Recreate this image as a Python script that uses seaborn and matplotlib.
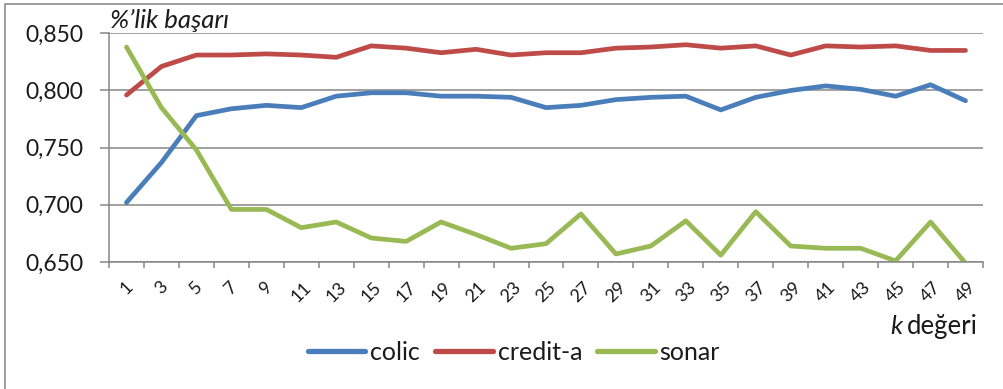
import numpy as np
import pandas as pd
import matplotlib
matplotlib.use("Agg")
import matplotlib.pyplot as plt
from matplotlib.lines import Line2D
from matplotlib.ticker import FuncFormatter
import seaborn as sns

# k values (odd neighbours 1..49)
k_values = [str(k) for k in range(1, 50, 2)]

colic = [0.702, 0.737, 0.778, 0.784, 0.787, 0.785, 0.795, 0.798, 0.798, 0.795,
         0.795, 0.794, 0.785, 0.787, 0.792, 0.794, 0.795, 0.783, 0.794, 0.800,
         0.804, 0.801, 0.795, 0.805, 0.791]
credit_a = [0.796, 0.821, 0.831, 0.831, 0.832, 0.831, 0.829, 0.839, 0.837, 0.833,
            0.836, 0.831, 0.833, 0.833, 0.837, 0.838, 0.840, 0.837, 0.839, 0.831,
            0.839, 0.838, 0.839, 0.835, 0.835]
sonar = [0.838, 0.785, 0.748, 0.696, 0.696, 0.680, 0.685, 0.671, 0.668, 0.685,
         0.674, 0.662, 0.666, 0.692, 0.657, 0.664, 0.686, 0.656, 0.694, 0.664,
         0.662, 0.662, 0.651, 0.685, 0.649]

series_names = ["colic", "credit-a", "sonar"]
series_colors = ["#4A7EBB", "#BE4B48", "#98B954"]

df = pd.DataFrame({
    "k": k_values * 3,
    "acc": colic + credit_a + sonar,
    "dataset": np.repeat(series_names, len(k_values)),
})

sns.set_theme(style="white")
plt.rcParams["font.family"] = ["Lato", "DejaVu Sans"]

W, H = 1004, 389
fig = plt.figure(figsize=(W / 100, H / 100), dpi=100)
ax = fig.add_axes([109 / W, 1 - 262 / H, (983 - 109) / W, (262 - 33.3) / H])

sns.lineplot(data=df, x="k", y="acc", hue="dataset", palette=series_colors,
             sort=False, linewidth=3.4, ax=ax, legend=False)
for ln in ax.lines:
    ln.set_solid_capstyle("round")
    ln.set_solid_joinstyle("round")

grid_c = "#868686"
txt_c = "#1a1a1a"
ax.set_xlim(-0.5, len(k_values) - 0.5)
ax.set_ylim(0.650, 0.850)
ax.set_yticks([0.650, 0.700, 0.750, 0.800, 0.850])
ax.yaxis.set_major_formatter(FuncFormatter(lambda v, p: f"{v:.3f}".replace(".", ",")))
ax.grid(axis="y", color=grid_c, linewidth=1.1)
ax.set_axisbelow(True)

# tick marks between categories, labels on categories
ax.set_xticks(np.arange(-0.5, len(k_values), 1.0))
ax.set_xticklabels([])
ax.set_xticks(np.arange(len(k_values)), minor=True)
ax.set_xticklabels(k_values, minor=True, rotation=45, ha="center", va="top",
                   fontsize=13, color=txt_c)
ax.tick_params(axis="x", which="major", direction="out", length=4.5, width=1.1,
               color=grid_c, bottom=True)
ax.tick_params(axis="x", which="minor", length=0, pad=12, bottom=True)
ax.tick_params(axis="y", direction="out", length=6.5, width=1.1, color=grid_c,
               left=True, pad=12, labelsize=16.5, labelcolor=txt_c)
ax.set_xlabel("")
ax.set_ylabel("")

for s in ["top", "right"]:
    ax.spines[s].set_visible(False)
for s in ["left", "bottom"]:
    ax.spines[s].set_color(grid_c)
    ax.spines[s].set_linewidth(1.1)

# axis captions
fig.text(110 / W, 1 - 28 / H, "%\u2019lik başarı", fontsize=18.5, style="italic",
         ha="left", va="baseline", color=txt_c)
deg = fig.text(978 / W, 1 - 334 / H, "değeri", fontsize=18.5, ha="right",
               va="baseline", color=txt_c)
fig.canvas.draw()
bb = deg.get_window_extent()
fig.text((bb.x0 - 5) / W, 1 - 334 / H, "k", fontsize=18.5, style="italic",
         ha="right", va="baseline", color=txt_c)

handles = [Line2D([0], [0], color=c, lw=3.8, solid_capstyle="round") for c in series_colors]
fig.legend(handles, series_names, loc="center", bbox_to_anchor=(514 / W, 1 - 352 / H),
           ncol=3, frameon=False, fontsize=18, handlelength=2.3, handletextpad=0.2,
           columnspacing=0.6, labelcolor=txt_c)

# chart-area border (left and top edges)
border_c = "#8c8c8c"
fig.add_artist(Line2D([5 / W, 5 / W, 1.0], [0.0, 1 - 4 / H, 1 - 4 / H],
                      transform=fig.transFigure, color=border_c, lw=1.2))

fig.savefig("out.png", dpi=100)
